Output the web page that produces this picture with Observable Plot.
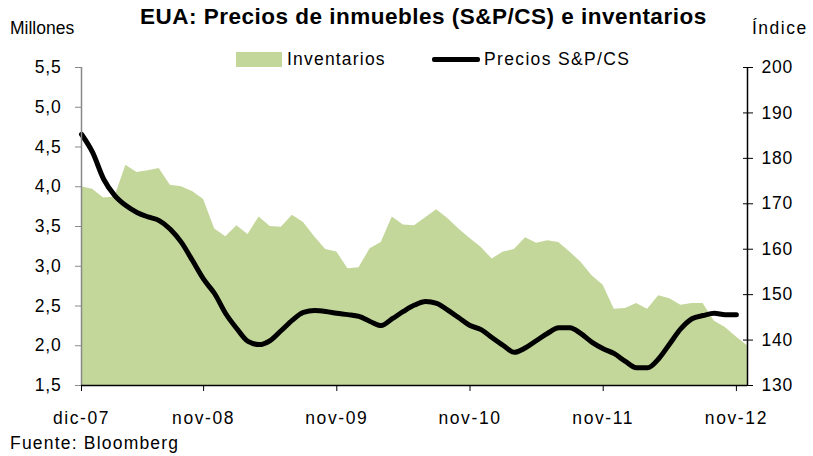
<!DOCTYPE html>
<html><head><meta charset="utf-8">
<script src="https://cdn.jsdelivr.net/npm/d3@7"></script>
<script src="https://cdn.jsdelivr.net/npm/@observablehq/plot@0.6"></script>
<style>
body{margin:0;background:#fff;font-family:"Liberation Sans",Arial,sans-serif;}
#wrap{position:relative;width:813px;height:456px;}
.t{position:absolute;white-space:nowrap;color:#000;}
</style></head>
<body><div id="wrap"></div>
<script>
const monthNames = ["ene","feb","mar","abr","may","jun","jul","ago","sep","oct","nov","dic"];
// monthly categories Dec-2007 .. Dec-2012
const months = d3.range(61).map(i => { const m = (11 + i) % 12, y = 7 + Math.floor((11 + i) / 12); return monthNames[m] + "-" + String(y).padStart(2, "0"); });
const inventarios = [4.00,3.97,3.86,3.87,4.27,4.18,4.20,4.23,4.02,4.00,3.94,3.84,3.47,3.37,3.51,3.40,3.62,3.50,3.49,3.64,3.55,3.37,3.21,3.18,2.97,2.98,3.22,3.30,3.62,3.52,3.51,3.61,3.71,3.60,3.47,3.35,3.24,3.09,3.18,3.21,3.36,3.29,3.32,3.30,3.18,3.05,2.88,2.76,2.46,2.47,2.53,2.46,2.63,2.59,2.51,2.53,2.53,2.31,2.23,2.11,2.00];
const precios = [185.3,181.3,175.4,171.8,169.6,168.1,167.1,166.3,164.4,161.5,157.5,153.4,150.2,145.8,142.5,139.7,139.0,139.9,142.1,144.4,146.1,146.5,146.3,145.9,145.6,145.2,144.1,143.2,144.7,146.3,147.7,148.5,148.1,146.6,144.9,143.2,142.3,140.5,138.8,137.3,138.3,139.9,141.5,142.7,142.7,141.4,139.5,138.1,137.0,135.3,133.9,133.9,135.9,139.2,142.5,144.7,145.4,145.9,145.6,145.6];
const leftTicks = [1.5,2.0,2.5,3.0,3.5,4.0,4.5,5.0,5.5];
const rightTicks = [130,140,150,160,170,180,190,200];
const xTickLabels = ["dic-07","nov-08","nov-09","nov-10","nov-11","nov-12"];

const L0 = leftTicks[0], L1 = leftTicks[leftTicks.length-1];
const R0 = rightTicks[0], R1 = rightTicks[rightTicks.length-1];
const toLeft = p => L0 + (p - R0) / (R1 - R0) * (L1 - L0);
const fromLeft = v => R0 + (v - L0) / (L1 - L0) * (R1 - R0);

const invData = inventarios.map((v, i) => ({i, v}));
const priceData = precios.map((p, i) => ({i, v: toLeft(p)}));
const xTicks = xTickLabels.map(l => months.indexOf(l));
const lastIdx = months.length - 1;
const fmt = d => d.toFixed(1).replace(".", ",");
const FS = 17.5;

const chart = Plot.plot({
  width: 813, height: 456,
  marginLeft: 81, marginRight: 66, marginTop: 67, marginBottom: 71,
  style: {fontFamily: '"Liberation Sans", Arial, sans-serif', fontSize: FS + "px", color: "#000", background: "#fff", letterSpacing: "0.8px"},
  x: {domain: [0, lastIdx], type: "linear"},
  y: {domain: [L0, L1]},
  marks: [
    Plot.areaY(invData, {x: "i", y: "v", fill: "#c4d79b", clip: true}),
    Plot.line(priceData, {x: "i", y: "v", stroke: "#000", strokeWidth: 5, curve: "monotone-x", strokeLinecap: "round", strokeLinejoin: "round"}),
    // left axis
    Plot.ruleX([0], {stroke: "#888", strokeWidth: 1.5}),
    Plot.axisY({anchor: "left", ticks: leftTicks, tickFormat: fmt, tickSize: 6, tickPadding: 14, stroke: "#888", label: null, fontSize: FS}),
    // right axis
    Plot.ruleX([lastIdx], {stroke: "#000", strokeWidth: 1.5}),
    Plot.axisY({anchor: "right", ticks: rightTicks.map(toLeft), tickFormat: () => "", tickSize: 10, dx: -5, stroke: "#000", label: null}),
    Plot.axisY({anchor: "right", ticks: rightTicks.map(toLeft), tickFormat: d => String(Math.round(fromLeft(d))), tickSize: 0, tickPadding: 14, label: null, fontSize: FS}),
    // bottom axis
    Plot.ruleY([L0], {stroke: "#000", strokeWidth: 1.5}),
    Plot.axisX({ticks: xTicks, tickFormat: d => months[d], tickSize: 6, tickPadding: 20, stroke: "#000", label: null, fontSize: FS, style: {letterSpacing: "1.6px"}})
  ]
});
chart.querySelectorAll('g[aria-label="x-axis tick label"] text').forEach(t => t.style.letterSpacing = "1.6px");
const wrap = document.getElementById("wrap");
chart.style.position = "absolute"; chart.style.left = "0"; chart.style.top = "0";
wrap.appendChild(chart);

function addText(txt, css){ const d = document.createElement("div"); d.className = "t"; d.textContent = txt; Object.assign(d.style, css); wrap.appendChild(d); return d; }
addText("EUA: Precios de inmuebles (S&P/CS) e inventarios", {left: "140px", top: "4px", fontSize: "22.5px", fontWeight: "bold", letterSpacing: "0.5px"});
addText("Millones", {left: "10px", top: "18px", fontSize: FS + "px"});
addText("Índice", {left: "752px", top: "18px", fontSize: FS + "px", letterSpacing: "1.5px"});
addText("Fuente: Bloomberg", {left: "10px", top: "433px", fontSize: FS + "px", letterSpacing: "1.2px"});
// legend
const sw1 = document.createElement("div"); Object.assign(sw1.style, {position: "absolute", left: "236px", top: "52px", width: "46px", height: "15px", background: "#c4d79b"}); wrap.appendChild(sw1);
addText("Inventarios", {left: "287px", top: "49px", fontSize: FS + "px", letterSpacing: "1.2px"});
const sw2 = document.createElement("div"); Object.assign(sw2.style, {position: "absolute", left: "432px", top: "57px", width: "48px", height: "5px", background: "#000", borderRadius: "2px"}); wrap.appendChild(sw2);
addText("Precios S&P/CS", {left: "484px", top: "49px", fontSize: FS + "px", letterSpacing: "1.35px"});
</script></body></html>
